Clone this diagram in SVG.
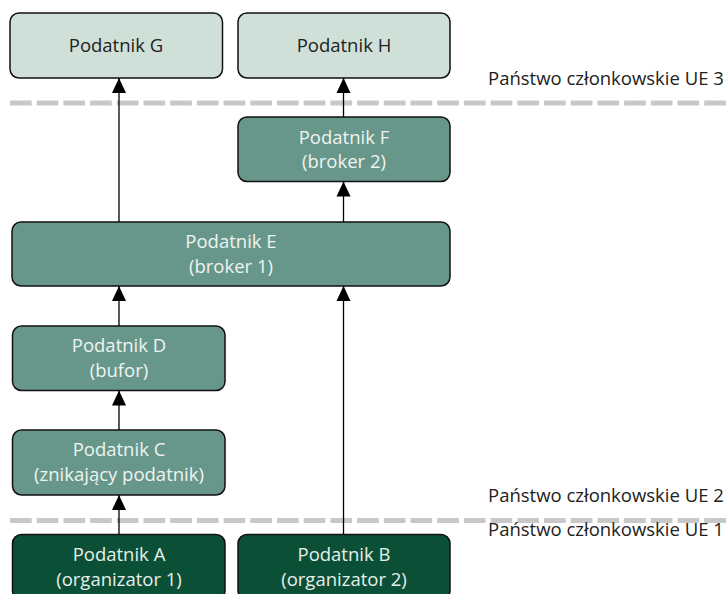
<svg xmlns="http://www.w3.org/2000/svg" width="727" height="594" viewBox="0 0 727 594">
  <style>
    text { font-family: "Open Sans", "Noto Sans", sans-serif; font-size: 18.5px; text-anchor: middle; }
    .box { stroke: #111; stroke-width: 1.5; }
    .light { fill: #cfe0d9; }
    .mid { fill: #67978a; }
    .dark { fill: #0c4f37; }
    .t-light { fill: #222; }
    .t-mid { fill: #eef4f1; }
    .t-dark { fill: #e6efea; }
    .label { fill: #222; text-anchor: start; }
    .border { stroke: #c8c8c8; stroke-width: 5; stroke-dasharray: 21.7 5; fill: none; }
    .conn { stroke: #000; stroke-width: 1.3; fill: none; marker-end: url(#arrow); }
  </style>
  <defs>
    <marker id="arrow" markerWidth="15" markerHeight="16" refX="16" refY="7.5" orient="auto" markerUnits="userSpaceOnUse" viewBox="0 0 16 15">
      <path d="M0,0 L16,7.5 L0,15 Z" fill="#000"/>
    </marker>
  </defs>

  <!-- member-state borders -->
  <g id="borders">
    <line class="border" x1="10" y1="103" x2="727" y2="103"/>
    <line class="border" x1="10" y1="520.5" x2="727" y2="520.5"/>
    <text class="label" x="488" y="85">Państwo członkowskie UE 3</text>
    <text class="label" x="488" y="502">Państwo członkowskie UE 2</text>
    <text class="label" x="488" y="536">Państwo członkowskie UE 1</text>
  </g>

  <g id="node-G">
    <rect class="box light" x="10" y="13" width="212.5" height="65" rx="9"/>
    <text class="t-light" x="116" y="52">Podatnik G</text>
  </g>
  <g id="node-H">
    <rect class="box light" x="238" y="13" width="212" height="65" rx="9"/>
    <text class="t-light" x="344" y="52">Podatnik H</text>
  </g>
  <g id="node-F">
    <rect class="box mid" x="238" y="117" width="212" height="64.5" rx="9"/>
    <text class="t-mid" x="344" y="143.5">Podatnik F</text>
    <text class="t-mid" x="344" y="168">(broker 2)</text>
  </g>
  <g id="node-E">
    <rect class="box mid" x="12" y="222" width="438" height="64" rx="9"/>
    <text class="t-mid" x="231" y="248">Podatnik E</text>
    <text class="t-mid" x="231" y="272.5">(broker 1)</text>
  </g>
  <g id="node-D">
    <rect class="box mid" x="12.5" y="326" width="212.5" height="64.5" rx="9"/>
    <text class="t-mid" x="119" y="352">Podatnik D</text>
    <text class="t-mid" x="119" y="376.5">(bufor)</text>
  </g>
  <g id="node-C">
    <rect class="box mid" x="12.5" y="430" width="212.5" height="65" rx="9"/>
    <text class="t-mid" x="119" y="456">Podatnik C</text>
    <text class="t-mid" x="119" y="480.5">(znikający podatnik)</text>
  </g>
  <g id="node-A">
    <rect class="box dark" x="12.5" y="534.5" width="212.5" height="65" rx="9"/>
    <text class="t-dark" x="119" y="561">Podatnik A</text>
    <text class="t-dark" x="119" y="585.5">(organizator 1)</text>
  </g>
  <g id="node-B">
    <rect class="box dark" x="238" y="534.5" width="212" height="65" rx="9"/>
    <text class="t-dark" x="344" y="561">Podatnik B</text>
    <text class="t-dark" x="344" y="585.5">(organizator 2)</text>
  </g>

  <g id="connectors">
    <line class="conn" x1="119" y1="534.5" x2="119" y2="495"/>
    <line class="conn" x1="119" y1="430" x2="119" y2="390.5"/>
    <line class="conn" x1="119" y1="326" x2="119" y2="286"/>
    <line class="conn" x1="343.5" y1="534.5" x2="343.5" y2="286"/>
    <line class="conn" x1="119" y1="222" x2="119" y2="78"/>
    <line class="conn" x1="343.5" y1="222" x2="343.5" y2="181.5"/>
    <line class="conn" x1="343.5" y1="117" x2="343.5" y2="78"/>
  </g>
</svg>
